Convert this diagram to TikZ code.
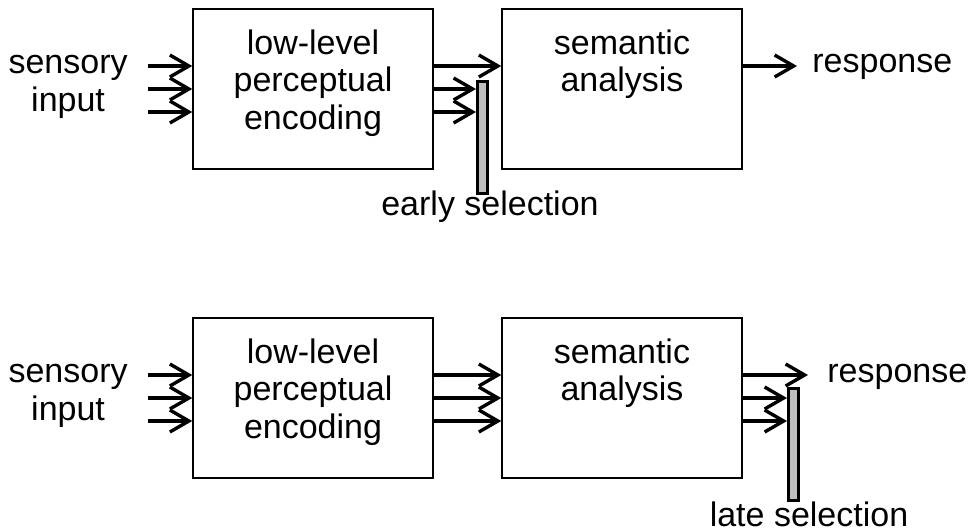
\documentclass[tikz,border=0pt]{standalone}
\usepackage{fontspec}
\setmainfont{Liberation Sans}
\usepackage{tikz}
\usetikzlibrary{arrows.meta,positioning}

\begin{document}
\begin{tikzpicture}[x=0.5pt,y=-0.5pt,
  font=\fontsize{17}{18.75}\selectfont,
  box/.style={draw,line width=0.75pt,minimum width=120pt,minimum height=80pt,inner sep=0pt},
  boxtext/.style={align=center},
  sig/.style={-{Straight Barb[length=9.5pt,width=11pt,line width=1.7pt]},line width=1.7pt},
  gate/.style={draw,line width=1.5pt,fill=black!25,minimum width=5pt,minimum height=56pt,inner sep=0pt},
  io/.style={align=center}]
\useasboundingbox (0,0) rectangle (972,531);
% early selection
\node[box] (enc1) at (313,89) {};
\node[box] (sem1) at (622,89) {};
\node[boxtext,below=7.2pt of enc1.north] (enc1t) {low-level\\perceptual\\encoding};
\node[boxtext,below=7.2pt of sem1.north] (sem1t) {semantic\\analysis};
\node[gate] (gate1) at (482.5,137.5) {};
\node[io,anchor=east,inner xsep=10pt] (in1) at (148,87) {sensory\\input};
\node[io,anchor=west,inner xsep=7.5pt] (out1) at (797,67) {response};
\node[anchor=base,xshift=3.75pt,yshift=-10pt] (sel1) at (gate1.south) {early selection};
\foreach \dy in {11.5,0,-11.5}
  \draw[sig] ([yshift=\dy pt]enc1.west -| in1.east) -- ([yshift=\dy pt]enc1.west);
\draw[sig] ([yshift=11.5pt]enc1.east) -- ([yshift=11.5pt]sem1.west);
\foreach \dy in {0,-11.5}
  \draw[sig] ([yshift=\dy pt]enc1.east) -- ([yshift=\dy pt]enc1.east -| gate1.west);
\draw[sig] ([yshift=11.5pt]sem1.east) -- ([yshift=11.5pt]sem1.east -| out1.west);
% late selection
\node[box] (enc2) at (313,398) {};
\node[box] (sem2) at (622,398) {};
\node[boxtext,below=7.2pt of enc2.north] (enc2t) {low-level\\perceptual\\encoding};
\node[boxtext,below=7.2pt of sem2.north] (sem2t) {semantic\\analysis};
\node[gate] (gate2) at (793.5,444.5) {};
\node[io,anchor=east,inner xsep=10pt] (in2) at (148,396) {sensory\\input};
\node[io,anchor=west,inner xsep=9.5pt] (out2) at (808,377) {response};
\node[anchor=base,xshift=7.75pt,yshift=-12pt] (sel2) at (gate2.south) {late selection};
\foreach \dy in {11.5,0,-11.5}{
  \draw[sig] ([yshift=\dy pt]enc2.west -| in2.east) -- ([yshift=\dy pt]enc2.west);
  \draw[sig] ([yshift=\dy pt]enc2.east) -- ([yshift=\dy pt]sem2.west);}
\draw[sig] ([yshift=11.5pt]sem2.east) -- ([yshift=11.5pt]sem2.east -| out2.west);
\foreach \dy in {0,-11.5}
  \draw[sig] ([yshift=\dy pt]sem2.east) -- ([yshift=\dy pt]sem2.east -| gate2.west);
\end{tikzpicture}
\end{document}
